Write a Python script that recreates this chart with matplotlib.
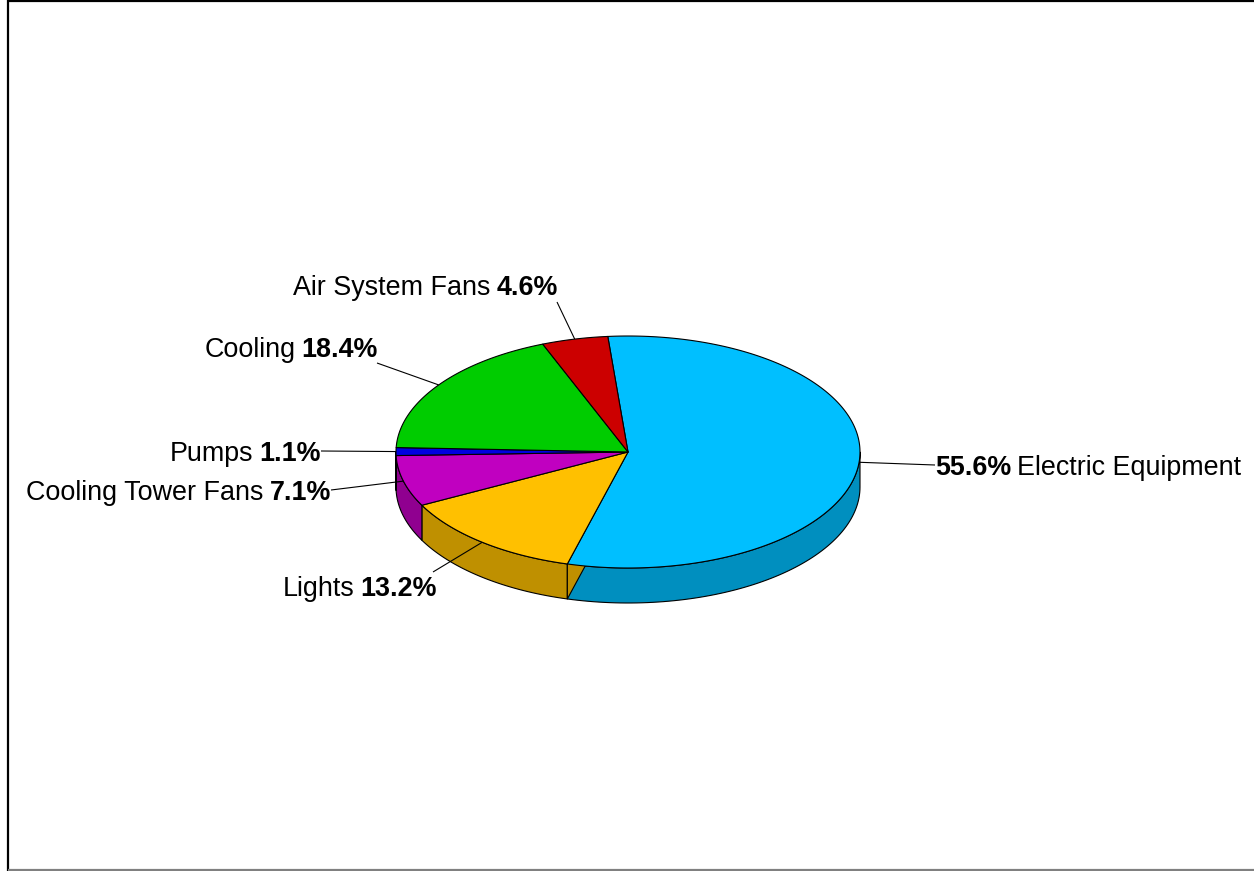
import numpy as np
import matplotlib
matplotlib.use("Agg")
import matplotlib.pyplot as plt
from matplotlib.patches import Polygon

# ---- data ----
categories = ["Electric Equipment", "Lights", "Cooling Tower Fans", "Pumps", "Cooling", "Air System Fans"]
percents = [55.6, 13.2, 7.1, 1.1, 18.4, 4.6]
top_colors = ["#00BFFF", "#FFC000", "#C000C0", "#0000E0", "#00CC00", "#CC0000"]
side_colors = ["#008FBF", "#BF9000", "#900090", "#0000A8", "#009900", "#990000"]

# ---- layout ----
W, H = 1254, 871
DPI = 100
cx, cy = 628, 452
rx, ry = 232, 116
depth = 35
start = 95.0  # degrees, slices go clockwise
FS = 19.4
GAP = 6

fig = plt.figure(figsize=(W / DPI, H / DPI), dpi=DPI)
ax = fig.add_axes([0, 0, 1, 1])
ax.set_xlim(0, W)
ax.set_ylim(H, 0)
ax.axis("off")
plt.rcParams["font.family"] = ["Liberation Sans", "DejaVu Sans"]

vals = np.array(percents)
angles = vals / vals.sum() * 360.0
bounds = [start]
for a in angles:
    bounds.append(bounds[-1] - a)


def ept(t_deg, dy=0.0):
    t = np.radians(t_deg)
    return cx + rx * np.cos(t), cy - ry * np.sin(t) + dy


LW = 0.8
# outer walls (visible part: angles between -180 and 0)
for i in range(len(vals)):
    a0, a1 = bounds[i], bounds[i + 1]  # a0 > a1
    lo = max(a1, -180.0)
    hi = min(a0, 0.0)
    if hi <= lo:
        continue
    ts = np.linspace(hi, lo, 80)
    top = [ept(t) for t in ts]
    bot = [ept(t, depth) for t in ts[::-1]]
    ax.add_patch(Polygon(top + bot, closed=True, facecolor=side_colors[i],
                         edgecolor="black", lw=LW, joinstyle="round"))

# radial wall of Lights at the Electric/Lights boundary (as seen in reference)
b = bounds[1]
ex, ey = ept(b)
ax.add_patch(Polygon([(cx, cy), (ex, ey), (ex, ey + depth), (cx, cy + depth)], closed=True,
                     facecolor=side_colors[1], edgecolor="black", lw=LW))

# top faces
for i in range(len(vals)):
    a0, a1 = bounds[i], bounds[i + 1]
    ts = np.linspace(a0, a1, 200)
    pts = [(cx, cy)] + [ept(t) for t in ts]
    ax.add_patch(Polygon(pts, closed=True, facecolor=top_colors[i],
                         edgecolor="black", lw=LW, joinstyle="round"))

# ---- labels ----
fig.canvas.draw()
renderer = fig.canvas.get_renderer()
inv = ax.transData.inverted()

# (label end point, text anchor x, baseline y, side)
label_layout = {
    "Electric Equipment": ((935, 465), 935, 475, "right"),
    "Lights": ((433, 572), 437, 596, "left"),
    "Cooling Tower Fans": ((331, 490), 331, 500, "left"),
    "Pumps": ((321, 451), 321, 461, "left"),
    "Cooling": ((377, 363), 378, 357, "left"),
    "Air System Fans": ((557, 302), 558, 295, "left"),
}

for i, name in enumerate(categories):
    mid = (bounds[i] + bounds[i + 1]) / 2
    px, py = ept(mid)
    (lx, ly), tx, by, side = label_layout[name]
    ax.plot([px, lx], [py, ly], color="black", lw=LW, solid_capstyle="butt")
    pct = f"{percents[i]:.1f}%"
    if side == "left":
        tb = ax.text(tx, by, pct, fontsize=FS, fontweight="bold", ha="right", va="baseline")
        bb = tb.get_window_extent(renderer)
        x0 = inv.transform((bb.x0, 0))[0]
        ax.text(x0 - GAP, by, name, fontsize=FS, ha="right", va="baseline")
    else:
        tb = ax.text(tx, by, pct, fontsize=FS, fontweight="bold", ha="left", va="baseline")
        bb = tb.get_window_extent(renderer)
        x1 = inv.transform((bb.x1, 0))[0]
        ax.text(x1 + GAP, by, name, fontsize=FS, ha="left", va="baseline")

# ---- frame ----
ax.plot([8, W], [1.5, 1.5], color="black", lw=1.6, solid_capstyle="butt")
ax.plot([8, 8], [0, H], color="black", lw=1.6, solid_capstyle="butt")
ax.plot([8, W], [869.5, 869.5], color="#808080", lw=1.6, solid_capstyle="butt")

fig.savefig("out.png", dpi=DPI)
